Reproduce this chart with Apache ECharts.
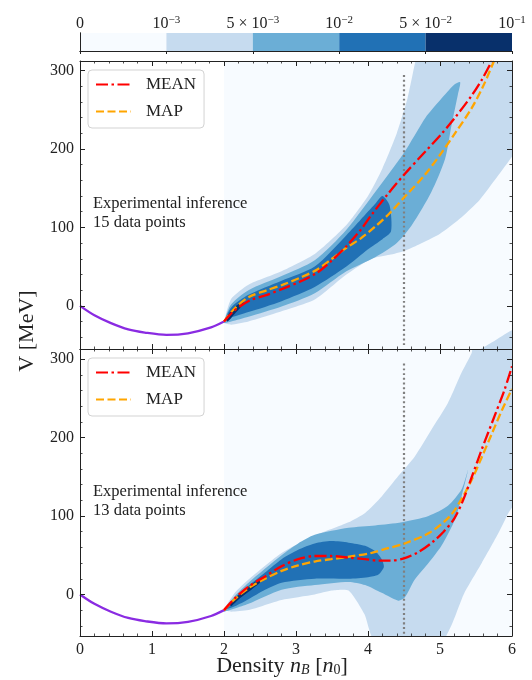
<!DOCTYPE html>
<html><head><meta charset="utf-8">
<script src="https://cdn.jsdelivr.net/npm/echarts@6/dist/echarts.min.js"></script>
<style>html,body{margin:0;padding:0;background:#fff}#c{width:532px;height:680px}</style>
</head><body><div id="c"></div>
<script>
// ================= DATA =================
const levelColors = ['#f7fbff', '#c6dbef', '#6baed6', '#2171b5', '#08306b'];
const colorbarLabels = ['0', '10{s|−3}', '5 × 10{s|−3}', '10{s|−2}', '5 × 10{s|−2}', '10{s|−1}'];
const colorbarTicks = [0, 1, 2, 3, 4, 5];
const yTicks = [0, 100, 200, 300];
const yMinorTicks = [-40, -20, 0, 20, 40, 60, 80, 100, 120, 140, 160, 180, 200, 220, 240, 260, 280, 300];
const annotTop = ['Experimental inference', '15 data points'];
const annotBottom = ['Experimental inference', '13 data points'];

// low-density branch (purple), both panels
const baseX = [0, 0.2, 0.43, 0.67, 0.9, 1.2, 1.5, 1.82, 2.0];
const baseV = [0, -12, -22, -30, -34, -37, -35, -27.5, -20];

// vertical dotted line
const vlineX = [4.5, 4.5];
const vlineV = [-50, 297];

// ---- top panel (15 data points) ----
const topMeanX = [2.0, 2.13, 2.36, 2.6, 2.82, 3.06, 3.29, 3.5, 3.7, 3.9, 4.05, 4.28, 4.51, 4.79, 5.02, 5.21, 5.44, 5.58, 5.72];
const topMeanV = [-20, -7, 7, 14, 22, 31, 42, 58, 76, 97, 116, 143, 168, 196, 219, 240, 268, 288, 312];
const topMapX = [2.0, 2.13, 2.34, 2.6, 2.82, 3.06, 3.29, 3.5, 3.7, 3.9, 4.1, 4.3, 4.51, 4.79, 5.02, 5.21, 5.44, 5.6, 5.75];
const topMapV = [-20, -5, 11, 20, 27, 36, 46, 60, 74, 86, 101, 118, 139, 167, 195, 220, 252, 280, 312];

const bgX = [2, 6, 6, 2];
const bgV = [-60, -60, 320, 320];

const topL2X = [2.0, 2.1, 2.34, 2.8, 3.26, 3.7, 4.0, 4.2, 4.4, 4.55, 4.66, 4.7, 6.05, 6.05, 6.0, 5.8, 5.55, 5.3, 5.0, 4.7, 4.5, 4.3, 4.05, 3.7, 3.26, 2.8, 2.34, 2.1, 2.0];
const topL2V = [-20, 9, 27, 44, 66, 103, 140, 175, 220, 265, 312, 320, 320, 195, 190, 165, 135, 113, 92, 78, 70, 65, 60, 40, 8, -7, -20, -24, -22];
const topL2bX = [5.5, 5.75, 6.05, 6.05];
const topL2bV = [-60, -45, -30, -60];
const topL3X = [2.0, 2.1, 2.34, 2.8, 3.26, 3.7, 4.1, 4.5, 4.8, 5.0, 5.2, 5.28, 5.25, 5.16, 5.07, 4.88, 4.61, 4.4, 4.1, 3.7, 3.26, 2.8, 2.34, 2.1, 2.0];
const topL3V = [-20, 2, 20, 38, 58, 97, 145, 195, 240, 262, 282, 285, 270, 230, 187, 145, 103, 80, 62, 44, 16, -1, -14, -20, -22];
const topL4X = [2.0, 2.1, 2.34, 2.8, 3.26, 3.7, 3.9, 4.1, 4.2, 4.3, 4.32, 4.2, 4.0, 3.7, 3.26, 2.8, 2.34, 2.1, 2.0];
const topL4V = [-20, -2, 14, 32, 50, 90, 110, 130, 140, 128, 95, 85, 72, 50, 24, 6, -8, -15, -20];
const topL5X = [2.03, 2.1, 2.2, 2.27, 2.24, 2.14, 2.05];
const topL5V = [-17, -6, 2, 5, -1, -11, -20];

// ---- bottom panel (13 data points) ----
const botMeanX = [2.0, 2.15, 2.34, 2.57, 2.8, 3.03, 3.26, 3.49, 3.72, 3.96, 4.15, 4.3, 4.5, 4.7, 4.9, 5.05, 5.2, 5.32, 5.45, 5.58, 5.76, 5.9, 6.0];
const botMeanV = [-20, -5, 10, 23, 36, 45, 49, 49, 47, 45, 43, 43, 46, 54, 67, 80, 97, 120, 152, 185, 228, 262, 291];
const botMapX = [2.0, 2.15, 2.34, 2.57, 2.8, 3.03, 3.26, 3.49, 3.72, 4.05, 4.28, 4.51, 4.86, 5.14, 5.32, 5.46, 5.58, 5.72, 5.86, 6.0];
const botMapV = [-20, -6, 8, 20, 30, 37, 42, 45, 48, 53, 59, 65, 79, 100, 125, 150, 175, 205, 235, 262];

const botL2X = [2.0, 2.15, 2.34, 2.8, 3.26, 3.73, 3.96, 4.19, 4.42, 4.65, 4.88, 5.11, 5.3, 5.44, 5.47, 6.05, 6.05, 5.95, 5.81, 5.58, 5.34, 5.02, 4.1, 3.95, 3.73, 3.5, 3.26, 2.8, 2.34, 2.1, 2.0];
const botL2V = [-19, 2, 19, 53, 75, 92, 104, 125, 151, 176, 210, 244, 283, 308, 320, 320, 120, 104, 78, 40, 2, -60, -60, -25, 5, 5, 0, -7, -20, -22, -20];
const botL3X = [2.0, 2.15, 2.34, 2.8, 3.03, 3.26, 3.73, 4.1, 4.47, 4.84, 5.11, 5.3, 5.39, 5.3, 5.21, 5.02, 4.84, 4.65, 4.51, 4.42, 4.19, 3.96, 3.73, 3.26, 2.8, 2.34, 2.15, 2.0];
const botL3V = [-20, -2, 15, 50, 65, 76, 85, 88, 92, 100, 113, 134, 159, 125, 96, 62, 40, 19, -4, -8, 2, 12, 16, 12, 6, -12, -18, -22];
const botL4X = [2.0, 2.15, 2.34, 2.57, 2.8, 3.03, 3.26, 3.49, 3.73, 3.96, 4.1, 4.19, 4.22, 4.14, 4.0, 3.73, 3.26, 2.8, 2.57, 2.34, 2.15, 2.0];
const botL4V = [-20, -4, 11, 28, 45, 57, 65, 68, 66, 62, 55, 45, 35, 25, 22, 20, 20, 15, 6, -6, -15, -20];
const botL5X = [2.08, 2.2, 2.35, 2.5, 2.52, 2.38, 2.22, 2.1];
const botL5V = [-12, -1, 10, 20, 17, 6, -5, -15];

// ================= CHART =================
const FONT = 'Liberation Serif';
const INK = '#222';
const yRanges = [[-55, 312], [-53, 313]];

const zip = (xs, vs) => xs.map((x, i) => [x, vs[i]]);

function polySeries(xs, vs, color, panel, smooth) {
  return {
    type: 'custom', xAxisIndex: panel * 2, yAxisIndex: panel * 4, silent: true, z: 1,
    data: zip(xs, vs), encode: { x: 0, y: 1 },
    renderItem: function (params, api) {
      if (params.dataIndexInside !== 0) return null;
      const pts = [];
      for (let i = 0; i < params.dataInsideLength; i++) {
        pts.push(api.coord([api.value(0, i), api.value(1, i)]));
      }
      const cs = params.coordSys;
      return {
        type: 'polygon', shape: { points: pts, smooth: smooth }, style: { fill: color, stroke: null },
        clipPath: { type: 'rect', shape: { x: cs.x, y: cs.y, width: cs.width, height: cs.height } }
      };
    }
  };
}

function lineSeries(name, xs, vs, panel, style, z) {
  return {
    type: 'line', name: name, xAxisIndex: panel * 2, yAxisIndex: panel * 4,
    data: zip(xs, vs), smooth: 0.3, symbol: 'none', showSymbol: false, clip: true, z: z,
    lineStyle: style, itemStyle: { color: style.color }, emphasis: { disabled: true }
  };
}

function xAx(grid, pos, labels) {
  return {
    type: 'value', gridIndex: grid, position: pos, min: 0, max: 6, interval: 1, z: 10,
    axisLine: { show: true, onZero: false, lineStyle: { color: INK, width: 1 } },
    axisTick: { show: true, inside: true, length: 5, lineStyle: { color: INK, width: 1 } },
    minorTick: { show: true, splitNumber: 5, length: 2.5, lineStyle: { color: INK, width: 0.8 } },
    axisLabel: { show: labels, fontFamily: FONT, fontSize: 16, color: INK, margin: 6, showMinLabel: true, showMaxLabel: true },
    splitLine: { show: false }, minorSplitLine: { show: false }
  };
}
function yAx(grid, pos, major, labels) {
  const r = yRanges[grid];
  return {
    type: 'value', gridIndex: grid, position: pos, min: r[0], max: r[1], z: 10,
    axisLine: { show: major, onZero: false, lineStyle: { color: INK, width: 1 } },
    axisTick: { show: true, inside: true, length: major ? 5 : 2.5, customValues: major ? yTicks : yMinorTicks, lineStyle: { color: INK, width: major ? 1 : 0.8 } },
    axisLabel: { show: labels, customValues: yTicks, fontFamily: FONT, fontSize: 16, color: INK, margin: 6 },
    splitLine: { show: false }
  };
}

const meanStyle = { color: '#ff0000', width: 2.3, type: [12, 3.5, 2.5, 3.5] };
const mapStyle = { color: '#ffa500', width: 2.3, type: [8, 3.5] };
const baseStyle = { color: '#8a2be2', width: 2.3, type: 'solid' };
const vStyle = { color: '#808080', width: 2.2, type: [2, 2.7] };

const series = [];
[
  [topL2X, topL2V, topL2bX, topL2bV, topL3X, topL3V, topL4X, topL4V, topL5X, topL5V, topMeanX, topMeanV, topMapX, topMapV],
  [botL2X, botL2V, null, null, botL3X, botL3V, botL4X, botL4V, botL5X, botL5V, botMeanX, botMeanV, botMapX, botMapV]
].forEach((P, p) => {
  series.push(polySeries(bgX, bgV, levelColors[0], p, 0));
  series.push(polySeries(P[0], P[1], levelColors[1], p, 0.2));
  if (P[2]) series.push(polySeries(P[2], P[3], levelColors[1], p, 0.2));
  series.push(polySeries(P[4], P[5], levelColors[2], p, 0.25));
  series.push(polySeries(P[6], P[7], levelColors[3], p, 0.25));
  series.push(polySeries(P[8], P[9], levelColors[4], p, 0.3));
  series.push(lineSeries('base', baseX, baseV, p, baseStyle, 3));
  series.push(lineSeries('nB=4.5', vlineX, vlineV, p, vStyle, 3));
  series.push(lineSeries('MEAN', P[10], P[11], p, meanStyle, 5));
  series.push(lineSeries('MAP', P[12], P[13], p, mapStyle, 4));
});

// colorbar
series.push({
  type: 'custom', xAxisIndex: 4, yAxisIndex: 8, silent: true, z: 1,
  data: levelColors.map((c, i) => [i, i + 1]),
  renderItem: function (params, api) {
    const a = api.coord([api.value(0), 1]);
    const b = api.coord([api.value(1), 0]);
    return { type: 'rect', shape: { x: a[0], y: a[1], width: b[0] - a[0], height: b[1] - a[1] }, style: { fill: levelColors[params.dataIndex] } };
  }
});

const legendBase = {
  data: ['MEAN', 'MAP'], orient: 'vertical', left: 88, itemWidth: 35, itemHeight: 14, itemGap: 10,
  padding: [6, 8, 8, 7], backgroundColor: 'rgba(255,255,255,0.85)', borderColor: '#d3d3d3', borderWidth: 1, borderRadius: 4,
  itemStyle: { opacity: 0 },
  textStyle: { fontFamily: FONT, fontSize: 17, color: INK, padding: [0, 0, 0, 10] }, selectedMode: false, z: 20
};

function annot(lines, y0) {
  return lines.map((t, i) => ({
    type: 'text', left: 93, top: y0 + i * 19, z: 20,
    style: { text: t, fontFamily: FONT, fontSize: 16.5, fill: INK }
  }));
}

const option = {
  animation: false,
  backgroundColor: '#ffffff',
  grid: [
    { left: 80, top: 61, width: 432, height: 288 },
    { left: 80, top: 349, width: 432, height: 287 },
    { left: 80, top: 33, width: 432, height: 18 }
  ],
  xAxis: [
    xAx(0, 'bottom', false), xAx(0, 'top', false),
    xAx(1, 'bottom', true), xAx(1, 'top', false),
    {
      type: 'value', gridIndex: 2, position: 'top', min: 0, max: 5, z: 10,
      axisLine: { show: true, lineStyle: { color: INK, width: 1 } },
      axisTick: { show: true, inside: true, length: 3, customValues: colorbarTicks, lineStyle: { color: INK } },
      axisLabel: {
        show: true, customValues: colorbarTicks, margin: 1, fontFamily: FONT, fontSize: 16, color: INK, lineHeight: 17,
        formatter: v => colorbarLabels[Math.round(v)],
        rich: { s: { fontFamily: FONT, fontSize: 11, lineHeight: 9, verticalAlign: 'top', color: INK } }
      },
      splitLine: { show: false }
    },
    {
      type: 'value', gridIndex: 2, position: 'bottom', min: 0, max: 5, z: 10,
      axisLine: { show: true, lineStyle: { color: INK, width: 1 } }, axisTick: { show: false }, axisLabel: { show: false }, splitLine: { show: false }
    }
  ],
  yAxis: [
    yAx(0, 'left', true, true), yAx(0, 'left', false, false), yAx(0, 'right', true, false), yAx(0, 'right', false, false),
    yAx(1, 'left', true, true), yAx(1, 'left', false, false), yAx(1, 'right', true, false), yAx(1, 'right', false, false),
    { type: 'value', gridIndex: 2, position: 'left', min: 0, max: 1, z: 10, axisLine: { show: true, lineStyle: { color: INK } }, axisTick: { show: false }, axisLabel: { show: false }, splitLine: { show: false } },
    { type: 'value', gridIndex: 2, position: 'right', min: 0, max: 1, z: 10, axisLine: { show: true, lineStyle: { color: INK } }, axisTick: { show: false }, axisLabel: { show: false }, splitLine: { show: false } }
  ],
  legend: [
    Object.assign({}, legendBase, { top: 70 }),
    Object.assign({}, legendBase, { top: 358 })
  ],
  graphic: [
    ...annot(annotTop, 195),
    ...annot(annotBottom, 483),
    {
      type: 'text', x: 27, y: 331, rotation: Math.PI / 2, z: 20,
      style: { text: 'V [MeV]', fontFamily: FONT, fontSize: 22, fill: INK, align: 'center', verticalAlign: 'middle' }
    },
    {
      type: 'text', x: 282, y: 666, z: 20,
      style: {
        text: 'Density {i|n}{b|B} [{i|n}{c|0}]', fontFamily: FONT, fontSize: 22, fill: INK, align: 'center', verticalAlign: 'middle', lineHeight: 22,
        rich: {
          i: { fontFamily: FONT, fontSize: 22, fontStyle: 'italic', fill: INK, lineHeight: 22 },
          b: { fontFamily: FONT, fontSize: 14, fontStyle: 'italic', fill: INK, verticalAlign: 'bottom', lineHeight: 12 },
          c: { fontFamily: FONT, fontSize: 14, fill: INK, verticalAlign: 'bottom', lineHeight: 12 }
        }
      }
    }
  ],
  series: series
};

const chart = echarts.init(document.getElementById('c'), null, { renderer: 'canvas' });
chart.setOption(option);
</script>
</body></html>
